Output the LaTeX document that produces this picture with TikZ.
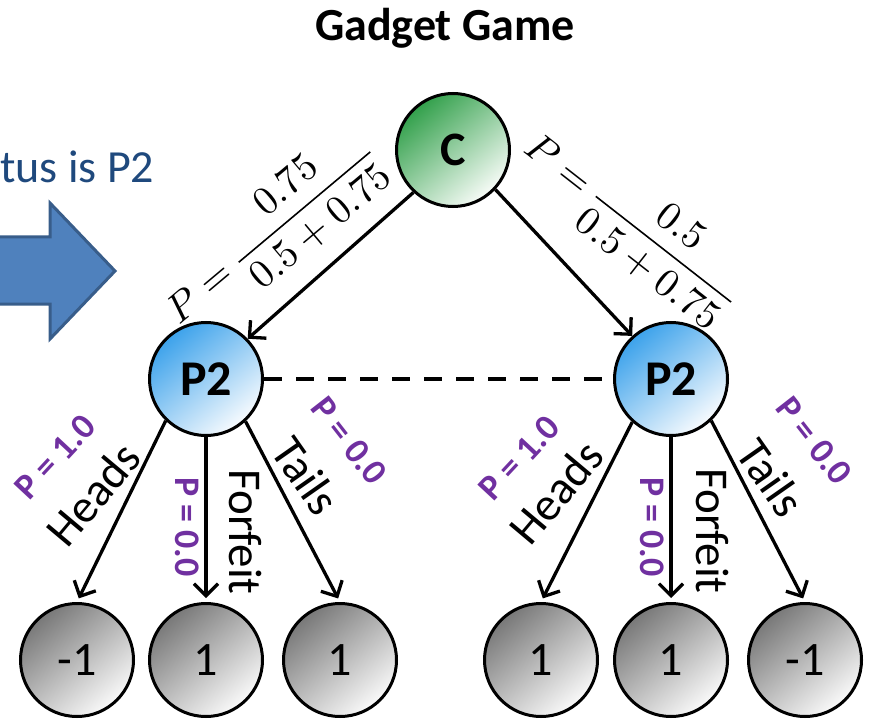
\documentclass[tikz,border=0pt]{standalone}
\usepackage{fontspec}
\usepackage{unicode-math}
\setmainfont{Carlito}
\usetikzlibrary{arrows.meta}
\definecolor{cgreen}{RGB}{50,160,75}
\definecolor{cgreenl}{RGB}{248,252,248}
\definecolor{pblue}{RGB}{60,162,235}
\definecolor{pbluel}{RGB}{248,251,254}
\definecolor{lgray}{RGB}{120,120,120}
\definecolor{lgrayl}{RGB}{250,250,250}
\definecolor{lblue}{RGB}{31,73,125}
\definecolor{afill}{RGB}{79,129,189}
\definecolor{aborder}{RGB}{56,93,138}
\definecolor{ppl}{RGB}{112,48,160}
\begin{document}
\begin{tikzpicture}[x=1pt,y=-1pt,
  circ/.style={circle, draw=black, line width=3pt, minimum size=113pt, inner sep=0pt},
  chance/.style={circ, top color=cgreen, bottom color=cgreenl, shading angle=40, font=\fontsize{48}{52}\selectfont\bfseries},
  player/.style={circ, top color=pblue, bottom color=pbluel, shading angle=40, font=\fontsize{50}{54}\selectfont\bfseries},
  leaf/.style={circ, top color=lgray, bottom color=lgrayl, shading angle=40, font=\fontsize{48}{52}\selectfont},
  edge/.style={line width=3.3pt, -{Straight Barb[length=12pt,width=24pt]}},
  lab/.style={font=\fontsize{47}{50}\selectfont, inner sep=0pt},
  plab/.style={text=ppl, font=\fontsize{36}{40}\selectfont\bfseries, inner sep=0pt},
  frac/.style={font=\fontsize{40}{44}\selectfont, inner sep=0pt}
]
\useasboundingbox (0,0) rectangle (872,719);
\clip (0,0) rectangle (872,719);

% title and side text
\node[font=\fontsize{46}{50}\selectfont\bfseries, anchor=base, inner sep=0pt] (title) at (445,41) {Gadget Game};
\node[anchor=base west, text=lblue, font=\fontsize{46}{50}\selectfont, inner sep=0pt] (status) at (0,183) {tus is P2};
\draw[fill=afill, draw=aborder, line width=3pt, line join=miter]
  (-10,237) -- (50,237) -- (50,203) -- (115,271) -- (50,339) -- (50,304) -- (-10,304) -- cycle;

% nodes
\node[chance] (C) at (453,150) {C};
\node[player] (P2L) at (206,379) {P2};
\node[player] (P2R) at (671,379) {P2};
\node[leaf] (L1) at (77,660) {-1};
\node[leaf] (L2) at (206,660) {1};
\node[leaf] (L3) at (340,660) {1};
\node[leaf] (L4) at (541,660) {1};
\node[leaf] (L5) at (671,660) {1};
\node[leaf] (L6) at (805,660) {-1};

% chance edges
\draw[edge] (C.227) -- (P2L.44);
\draw[edge] (C.317) -- (P2R.132);
\node[frac, rotate=40] (fl) at (271,233) {$\displaystyle P = \frac{0.75}{0.5+0.75}$};
\node[frac, rotate=-38] (fr) at (631,222) {$\displaystyle P = \frac{0.5}{0.5+0.75}$};

% information set
\draw[line width=4pt, dash pattern=on 18pt off 14pt] (P2L.east) -- (P2R.west);

% player edges
\draw[edge, shorten >=4pt] (P2L.226) -- (L1.north);
\draw[edge, shorten >=4pt] (P2L.south) -- (L2.north);
\draw[edge, shorten >=4pt] (P2L.313) -- (L3.north);
\draw[edge, shorten >=4pt] (P2R.228) -- (L4.north);
\draw[edge, shorten >=4pt] (P2R.south) -- (L5.north);
\draw[edge, shorten >=4pt] (P2R.314) -- (L6.north);

% edge labels left
\node[plab, rotate=47] (p1L) at (55,457) {P = 1.0};
\node[lab, rotate=50] (hL) at (93,494) {Heads};
\node[plab, rotate=-90] (p2L) at (187,527) {P = 0.0};
\node[lab, rotate=-90] (fL) at (245,532) {Forfeit};
\node[lab, rotate=-55] (tL) at (306,476) {Tails};
\node[plab, rotate=-52] (p3L) at (349,441) {P = 0.0};
% edge labels right
\node[plab, rotate=47] (p1R) at (519,458) {P = 1.0};
\node[lab, rotate=50] (hR) at (556,492) {Heads};
\node[plab, rotate=-90] (p2R) at (652,527) {P = 0.0};
\node[lab, rotate=-90] (fR) at (712,531) {Forfeit};
\node[lab, rotate=-55] (tR) at (771,478) {Tails};
\node[plab, rotate=-52] (p3R) at (814,441) {P = 0.0};
\end{tikzpicture}
\end{document}
